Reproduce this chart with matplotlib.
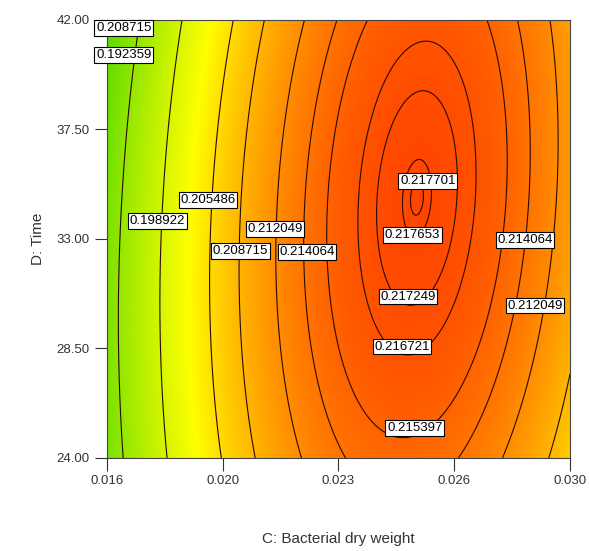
import numpy as np
import matplotlib
matplotlib.use("Agg")
import matplotlib.pyplot as plt
from matplotlib.colors import LinearSegmentedColormap

# factor ranges (actual units)
c_range = [0.016, 0.030]
d_range = [24.0, 42.0]
x_ticks = [0.016, 0.0195, 0.023, 0.0265, 0.030]
x_tick_labels = ["0.016", "0.020", "0.023", "0.026", "0.030"]
y_ticks = [24.0, 28.5, 33.0, 37.5, 42.0]
y_tick_labels = ["24.00", "28.50", "33.00", "37.50", "42.00"]

# quadratic response model in coded units
z_max = 0.217713
c_opt = 0.339     # coded C at optimum
d_opt = 0.187     # coded D at optimum
coef_cc = 0.0156
coef_dd = 0.00198
coef_cd = 0.0017

levels = [0.192359, 0.198922, 0.205486, 0.208715, 0.212049, 0.214064,
          0.215397, 0.216721, 0.217249, 0.217653, 0.217701]

# contour label placements: (level, C, D)
label_spots = [
    (0.208715, 0.01651, 41.67),
    (0.192359, 0.01651, 40.56),
    (0.205486, 0.01905, 34.60),
    (0.198922, 0.01752, 33.74),
    (0.212049, 0.02108, 33.41),
    (0.208715, 0.02004, 32.51),
    (0.214064, 0.02205, 32.47),
    (0.217701, 0.02570, 35.39),
    (0.217653, 0.02524, 33.17),
    (0.217249, 0.02510, 30.63),
    (0.214064, 0.02864, 32.96),
    (0.212049, 0.02894, 30.26),
    (0.216721, 0.02492, 28.58),
    (0.215397, 0.02531, 25.23),
]

cc = np.linspace(c_range[0], c_range[1], 400)
dd = np.linspace(d_range[0], d_range[1], 400)
C, D = np.meshgrid(cc, dd)
x1 = (C - 0.023) / 0.007 - c_opt
x2 = (D - 33.0) / 9.0 - d_opt
Z = z_max - coef_cc * x1**2 - coef_dd * x2**2 + coef_cd * x1 * x2

cmap = LinearSegmentedColormap.from_list("de", ["#66dd00", "#ffff00", "#ff4600"])

fig = plt.figure(figsize=(5.89, 5.51), dpi=100)
ax = fig.add_axes([0.1817, 0.1688, 0.786, 0.795])

ax.pcolormesh(C, D, Z, cmap=cmap, vmin=0.188, vmax=0.2178, shading="gouraud")
ax.contour(C, D, Z, levels=levels, colors="#2a0a00", linewidths=0.8)

for lev, cx, dy in label_spots:
    ax.text(cx, dy, f"{lev:.6f}", fontsize=9.5, family="Liberation Sans",
            ha="center", va="center",
            bbox=dict(facecolor="white", edgecolor="black", pad=1.2, lw=0.8))

ax.set_xlim(c_range)
ax.set_ylim(d_range)
ax.set_xticks(x_ticks)
ax.set_xticklabels(x_tick_labels)
ax.set_yticks(y_ticks)
ax.set_yticklabels(y_tick_labels)
ax.tick_params(direction="out", length=9, width=0.8, labelsize=9.5, colors="#333333")
for lbl in ax.get_xticklabels() + ax.get_yticklabels():
    lbl.set_family("Liberation Sans")
for s in ax.spines.values():
    s.set_linewidth(0.8)
    s.set_color("#444444")

ax.set_xlabel("C: Bacterial dry weight", fontsize=11, family="Liberation Sans",
              color="#333333", labelpad=32)
ax.set_ylabel("D: Time", fontsize=11, family="Liberation Sans",
              color="#333333", labelpad=8)

fig.savefig("out.png", dpi=100)
